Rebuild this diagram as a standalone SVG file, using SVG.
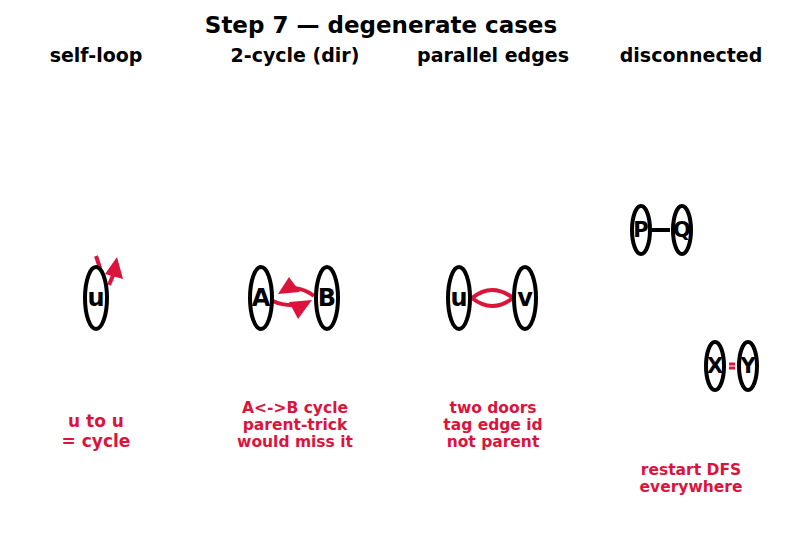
<svg xmlns="http://www.w3.org/2000/svg" width="787" height="539" viewBox="0 0 787 539">
<style>
text{font-family:"DejaVu Sans","Liberation Sans",sans-serif;font-weight:bold;text-anchor:middle}
.title{font-size:23px;fill:#000}
.sub{font-size:19px;fill:#000}
.lbl{font-size:24px;fill:#000}
.lbls{font-size:21px;fill:#000}
.note{font-size:15.5px;fill:#DC143C}
.node{fill:#fff;stroke:#000;stroke-width:4}
.edge{fill:none;stroke:#DC143C;stroke-width:4}
.head{fill:#DC143C;stroke:none}
</style>
<rect width="787" height="539" fill="#fff"/>
<text class="title" x="381" y="33">Step 7 — degenerate cases</text>
<text class="sub" x="96" y="62">self-loop</text>
<text class="sub" x="295" y="62">2-cycle (dir)</text>
<text class="sub" x="493" y="62">parallel edges</text>
<text class="sub" x="691" y="62">disconnected</text>

<g id="connectors">
  <path class="edge" d="M96,256 L100,268"/>
  <path class="edge" d="M109,285 L114,273"/>
  <polygon class="head" points="105,274 117,257 123,279"/>
  <path class="edge" d="M314,296 Q305,289 294,288"/>
  <polygon class="head" points="278,294 289,277 300,292"/>
  <path class="edge" d="M273,301 Q283,306 298,305"/>
  <polygon class="head" points="289,302 312,300 298,319"/>
  <path class="edge" d="M472,298 Q492,282 513,298"/>
  <path class="edge" d="M472,298 Q492,314 513,298"/>
  <path d="M652,230 L670,230" fill="none" stroke="#000" stroke-width="4"/>
  <path d="M729,364 L735,364 M729,368 L735,368" fill="none" stroke="#DC143C" stroke-width="3"/>
</g>

<g id="node-self-u"><ellipse class="node" cx="96" cy="298" rx="11" ry="31"/><text class="lbl" x="96" y="306">u</text></g>
<g id="node-A"><ellipse class="node" cx="261" cy="298" rx="11" ry="31"/><text class="lbl" x="261" y="306">A</text></g>
<g id="node-B"><ellipse class="node" cx="327" cy="298" rx="11" ry="31"/><text class="lbl" x="327" y="306">B</text></g>
<g id="node-u"><ellipse class="node" cx="459" cy="298" rx="11" ry="31"/><text class="lbl" x="459" y="306">u</text></g>
<g id="node-v"><ellipse class="node" cx="525" cy="298" rx="11" ry="31"/><text class="lbl" x="525" y="306">v</text></g>
<g id="node-P"><ellipse class="node" cx="641" cy="230" rx="9" ry="24"/><text class="lbls" x="641" y="237">P</text></g>
<g id="node-Q"><ellipse class="node" cx="682" cy="230" rx="9" ry="24"/><text class="lbls" x="682" y="237">Q</text></g>
<g id="node-X"><ellipse class="node" cx="715" cy="366" rx="9" ry="24"/><text class="lbls" x="715" y="373">X</text></g>
<g id="node-Y"><ellipse class="node" cx="748" cy="366" rx="9" ry="24"/><text class="lbls" x="748" y="373">Y</text></g>

<text class="note" style="font-size:17px" x="96" y="427">u to u</text>
<text class="note" style="font-size:17px" x="96" y="447">= cycle</text>
<text class="note" x="295" y="413">A&lt;-&gt;B cycle</text>
<text class="note" x="295" y="430">parent-trick</text>
<text class="note" x="295" y="447">would miss it</text>
<text class="note" x="493" y="413">two doors</text>
<text class="note" x="493" y="430">tag edge id</text>
<text class="note" x="493" y="447">not parent</text>
<text class="note" x="691" y="475">restart DFS</text>
<text class="note" x="691" y="492">everywhere</text>
</svg>
